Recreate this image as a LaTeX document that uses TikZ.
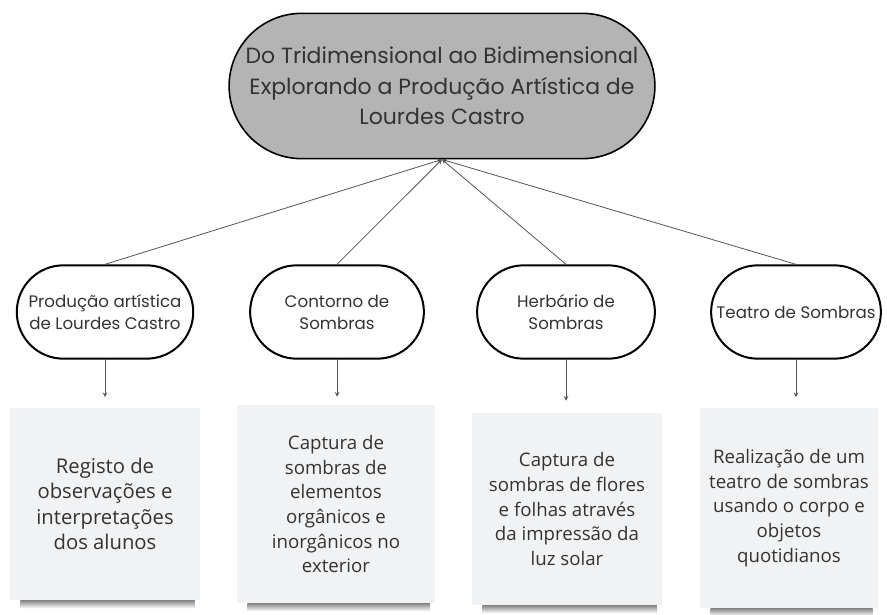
\documentclass[tikz,border=0pt]{standalone}
\usepackage{fontspec}
\setmainfont{Poppins}
\newfontfamily\notefont{Open Sans}
\usetikzlibrary{shapes.misc}

\definecolor{titlegray}{HTML}{B4B4B4}
\definecolor{notegray}{HTML}{F1F2F4}
\definecolor{inkgray}{HTML}{333333}
\definecolor{linegray}{HTML}{555555}

\tikzset{
  pill/.style={rounded rectangle, draw=black, line width=1.5pt, align=center,
    text=inkgray, font=\fontsize{12.5}{16.5}\selectfont},
  note/.style={rectangle, fill=notegray, align=center, text=inkgray,
    font=\notefont\fontsize{14}{18.5}\selectfont},
  link/.style={draw=linegray, line width=0.6pt, ->, >=stealth},
  noteshadow/.style={top color=gray!95, bottom color=white},
}

\begin{document}
\begin{tikzpicture}[x=0.75pt,y=-0.75pt]
\useasboundingbox (0,0) rectangle (887,614);

\node[pill, fill=titlegray, line width=1.2pt, minimum width=326pt, minimum height=109pt,
  font=\fontsize{16.5}{23}\selectfont] (title) at (442,86)
  {Do Tridimensional ao Bidimensional\\Explorando a Produção Artística de\\Lourdes Castro};

\node[pill, minimum width=139pt, minimum height=70pt] (p1) at (105,312) {Produção artística\\de Lourdes Castro};
\node[pill, minimum width=137pt, minimum height=70pt] (p2) at (337,312) {Contorno de\\Sombras};
\node[pill, minimum width=140pt, minimum height=70pt] (p3) at (566,312) {Herbário de\\Sombras};
\node[pill, minimum width=134pt, minimum height=70pt] (p4) at (796,312) {Teatro de Sombras};

% sticky notes
\node[note, minimum width=142.5pt, minimum height=144pt,
  font=\notefont\fontsize{15.2}{19}\selectfont] (b1) at (105,504)
  {Registo de\\observações e\\interpretações\\dos alunos};
\node[note, minimum width=148.5pt, minimum height=148.5pt] (b2) at (336,504)
  {Captura de\\sombras de\\elementos\\orgânicos e\\inorgânicos no\\exterior};
\node[note, minimum width=142.5pt, minimum height=144pt] (b3) at (567,509)
  {Captura de\\sombras de flores\\e folhas através\\da impressão da\\luz solar};
\node[note, minimum width=133pt, minimum height=150pt] (b4) at (789,508)
  {Realização de um\\teatro de sombras\\usando o corpo e\\objetos\\quotidianos};

\shade[noteshadow] ([xshift=8pt]b1.south west) rectangle ([xshift=-4pt,yshift=-6pt]b1.south east);
\shade[noteshadow] ([xshift=8pt]b2.south west) rectangle ([xshift=-4pt,yshift=-6pt]b2.south east);
\shade[noteshadow] ([xshift=8pt]b3.south west) rectangle ([xshift=-4pt,yshift=-6pt]b3.south east);
\shade[noteshadow] ([xshift=8pt]b4.south west) rectangle ([xshift=-4pt,yshift=-6pt]b4.south east);

% links to the title
\draw[link] (p1.north) -- (title.south);
\draw[link] (p2.north) -- (title.south);
\draw[link] (p3.north) -- (title.south);
\draw[link] (p4.north) -- (title.south);

% links to the notes
\draw[link, shorten >=8pt] (p1.south) -- (p1.south |- b1.north);
\draw[link, shorten >=6pt] (p2.south) -- (p2.south |- b2.north);
\draw[link, shorten >=9pt] (p3.south) -- (p3.south |- b3.north);
\draw[link, shorten >=8pt] (p4.south) -- (p4.south |- b4.north);
\end{tikzpicture}
\end{document}
